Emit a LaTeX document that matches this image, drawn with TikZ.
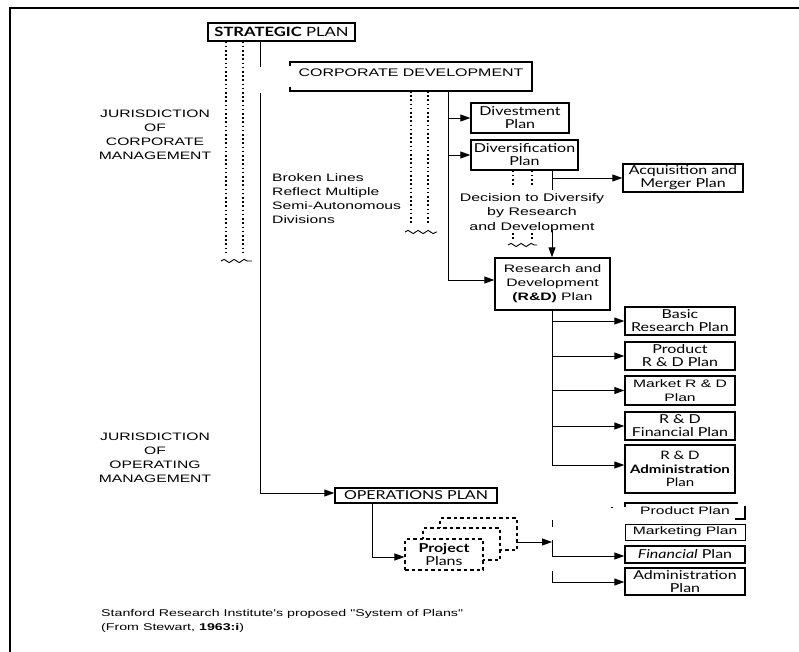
\documentclass[tikz,border=0pt]{standalone}
\usepackage{fontspec}
\setmainfont{Liberation Sans}
\newfontfamily\helv[FakeStretch=1.45]{Liberation Sans}
\newfontfamily\gill[FakeStretch=1.3]{Lato}
\usetikzlibrary{arrows.meta,decorations.pathmorphing}

\begin{document}
\begin{tikzpicture}[x=1pt,y=-1pt,
  plan/.style={draw,line width=1.4pt,inner sep=0pt,align=center,
    font=\gill\fontsize{12.3}{13}\selectfont},
  hplan/.style={plan,font=\helv\fontsize{10.8}{14}\selectfont},
  conn/.style={line width=0.9pt},
  arr/.style={conn,-{Triangle[length=10pt,width=7pt]}},
  dots/.style={line width=1.4pt,dash pattern=on 1.6pt off 2.6pt},
  wave/.style={line width=0.9pt,decorate,
    decoration={snake,amplitude=1.6pt,segment length=10pt}},
  lbl/.style={inner sep=0pt,align=center,font=\helv\fontsize{10.8}{14}\selectfont},
  projbox/.style={draw,fill=white,line width=1.1pt,dash pattern=on 3.5pt off 3pt,
    inner sep=0pt,align=center,font=\gill\fontsize{12.3}{13}\selectfont}
]
\useasboundingbox (0,0) rectangle (799,652);

% frame
\coordinate (fA) at (10,652);
\coordinate (fB) at (10,8);
\coordinate (fC) at (799,8);
\draw[line width=1.3pt] (fA) -- (fB) -- (fC);

% ---------- plans ----------
\node[plan,minimum width=147pt,minimum height=18pt,font=\gill\fontsize{12.8}{13}\selectfont]
  (strat) at (281.5,32) {\textbf{STRATEGIC} PLAN};

% corporate development: box left open along most of its left side
\node[lbl,font=\helv\fontsize{11}{13}\selectfont] (corp) at (411,73) {CORPORATE DEVELOPMENT};
\coordinate (cL1) at (290,66);
\coordinate (cTL) at (290,62);
\coordinate (cTR) at (532,62);
\coordinate (cBR) at (532,91);
\coordinate (cBL) at (290,91);
\coordinate (cL2) at (290,87);
\draw[line width=1.4pt] (cL1) -- (cTL) -- (cTR) -- (cBR) -- (cBL) -- (cL2);

\node[plan,minimum width=98pt,minimum height=30pt] (divest) at (520,118)
  {Divestment\\Plan};
\node[plan,minimum width=107pt,minimum height=30pt] (divers) at (524.5,155)
  {Diversification\\Plan};
\node[plan,minimum width=120pt,minimum height=28pt] (acq) at (683,178)
  {Acquisition and\\Merger Plan};
\node[hplan,minimum width=115pt,minimum height=52pt] (rnd) at (552.5,284)
  {Research and\\Development\\\textbf{(R\&D)} Plan};

\node[plan,minimum width=110pt,minimum height=28pt] (basic) at (680,321)
  {Basic\\Research Plan};
\node[plan,minimum width=110pt,minimum height=28pt] (prodrd) at (680,356)
  {Product\\R \& D Plan};
\node[hplan,minimum width=110pt,minimum height=29pt] (market) at (680,390.5)
  {Market R \& D\\Plan};
\node[plan,minimum width=110pt,minimum height=28pt] (rdfin) at (680,426)
  {R \& D\\Financial Plan};
\node[plan,minimum width=110pt,minimum height=48pt,font=\gill\fontsize{11.6}{13.5}\selectfont]
  (rdadm) at (680,469) {R \& D\\\textbf{Administration}\\Plan};

\node[plan,minimum width=162pt,minimum height=15pt] (ops) at (416,495.5)
  {OPERATIONS PLAN};

% stacked project plans (rear copies first)
\node[projbox,minimum width=77pt,minimum height=32pt] (projC) at (478.5,534) {};
\node[projbox,minimum width=77pt,minimum height=32pt] (projB) at (461.5,544) {};
\node[projbox,minimum width=78pt,minimum height=31pt] (projA) at (444,554.5)
  {\textbf{Project}\\Plans};

% operating plans
\node[lbl] (pplan) at (685,511) {Product Plan};
\coordinate (pp1) at (625,507);
\coordinate (pp2) at (625,503);
\coordinate (pp3) at (738,503);
\coordinate (pp4) at (745,506);
\coordinate (pp5) at (745,519);
\coordinate (pp6) at (735,519);
\draw[line width=1.3pt] (pp1) -- (pp2) -- (pp3);
\draw[line width=1.3pt] (pp4) -- (pp5) -- (pp6);
\node[hplan,line width=1pt,minimum width=120pt,minimum height=16pt] (mplan) at (685,532)
  {Marketing Plan};
\node[plan,minimum width=120pt,minimum height=17pt] (finplan) at (685,554.5)
  {\textit{Financial} Plan};
\node[plan,minimum width=120pt,minimum height=27pt] (admplan) at (685,581.5)
  {Administration\\Plan};

% ---------- labels ----------
\node[lbl] (jurA) at (155,135) {JURISDICTION\\OF\\CORPORATE\\MANAGEMENT};
\node[lbl] (jurB) at (155,458) {JURISDICTION\\OF\\OPERATING\\MANAGEMENT};
\node[lbl,align=left,anchor=north west] (broken) at (272,173)
  {Broken Lines\\Reflect Multiple\\Semi-Autonomous\\Divisions};
\node[lbl,font=\helv\fontsize{11}{14.5}\selectfont] (dec) at (532,213)
  {Decision to Diversify\\by Research\\and Development};
\node[lbl,align=left,anchor=north west,font=\helv\fontsize{9.8}{14}\selectfont] (cap) at (101,609)
  {Stanford Research Institute's proposed "System of Plans"\\(From Stewart, \textbf{1963:i})};

% ---------- connectors ----------
% strategic plan spine
\coordinate (ss0) at (260,67);
\coordinate (ss1) at (260,93);
\coordinate (ss2) at (260,493);
\draw[conn] (strat.south -| ss0) -- (ss0);
\draw[arr] (ss1) -- (ss2) -- (ss2 -| ops.west);

% broken lines under the strategic plan
\coordinate (sd1) at (226,253);
\coordinate (sd2) at (243,253);
\coordinate (sw1) at (221,261);
\coordinate (sw2) at (252,261);
\draw[dots] (strat.south -| sd1) -- (sd1);
\draw[dots] (strat.south -| sd2) -- (sd2);
\draw[wave] (sw1) -- (sw2);

% broken lines under corporate development
\coordinate (cd1) at (411,225);
\coordinate (cd2) at (428,225);
\coordinate (cw1) at (405,232);
\coordinate (cw2) at (437,232);
\draw[dots] (cBL -| cd1) -- (cd1);
\draw[dots] (cBL -| cd2) -- (cd2);
\draw[wave] (cw1) -- (cw2);

% corporate development spine
\coordinate (cs) at (448,280);
\draw[arr] (cBL -| cs) -- (cs) -- (cs -| rnd.west);
\draw[arr] (divest.west -| cs) -- (divest.west);
\draw[arr] (divers.west -| cs) -- (divers.west);

% diversification plan
\coordinate (dd1) at (513,187);
\coordinate (dd2) at (532,187);
\coordinate (dd3) at (513,233);
\coordinate (dd4) at (513,240);
\coordinate (dd5) at (532,233);
\coordinate (dd6) at (532,240);
\coordinate (dw1) at (508,245);
\coordinate (dw2) at (537,245);
\draw[dots] (divers.south -| dd1) -- (dd1);
\draw[dots] (divers.south -| dd2) -- (dd2);
\draw[dots] (dd3) -- (dd4);
\draw[dots] (dd5) -- (dd6);
\draw[wave] (dw1) -- (dw2);

\coordinate (dv1) at (552,190);
\coordinate (dvb) at (552,178);
\coordinate (dv2) at (552,230);
\draw[conn] (divers.south -| dv1) -- (dv1);
\draw[arr] (dvb) -- (dvb -| acq.west);
\draw[arr] (dv2) -- (rnd.north -| dv2);

% research and development spine
\coordinate (rs) at (552,465);
\draw[conn] (rnd.south -| rs) -- (rs);
\draw[arr] (basic.west -| rs) -- (basic.west);
\draw[arr] (prodrd.west -| rs) -- (prodrd.west);
\draw[arr] (market.west -| rs) -- (market.west);
\draw[arr] (rdfin.west -| rs) -- (rdfin.west);
\draw[arr] (rs) -- (rs -| rdadm.west);

% operations plan to project plans
\coordinate (oc) at (372,557);
\draw[arr] (ops.south -| oc) -- (oc) -- (oc -| projA.west);

% project plans to operating plans
\coordinate (pj) at (552,542);
\draw[arr] (pj -| projC.east) -- (pj);
\coordinate (t1) at (552,520);
\coordinate (t2) at (552,527);
\draw[conn] (t1) -- (t2);
\coordinate (f1) at (552,540);
\coordinate (f2) at (552,556);
\draw[arr] (f1) -- (f2) -- (f2 -| finplan.west);
\coordinate (a1) at (552,571);
\coordinate (a2) at (552,582);
\draw[arr] (a1) -- (a2) -- (a2 -| admplan.west);
\coordinate (k1) at (611,507);
\coordinate (k2) at (613,507);
\draw[conn] (k1) -- (k2);
\end{tikzpicture}
\end{document}
